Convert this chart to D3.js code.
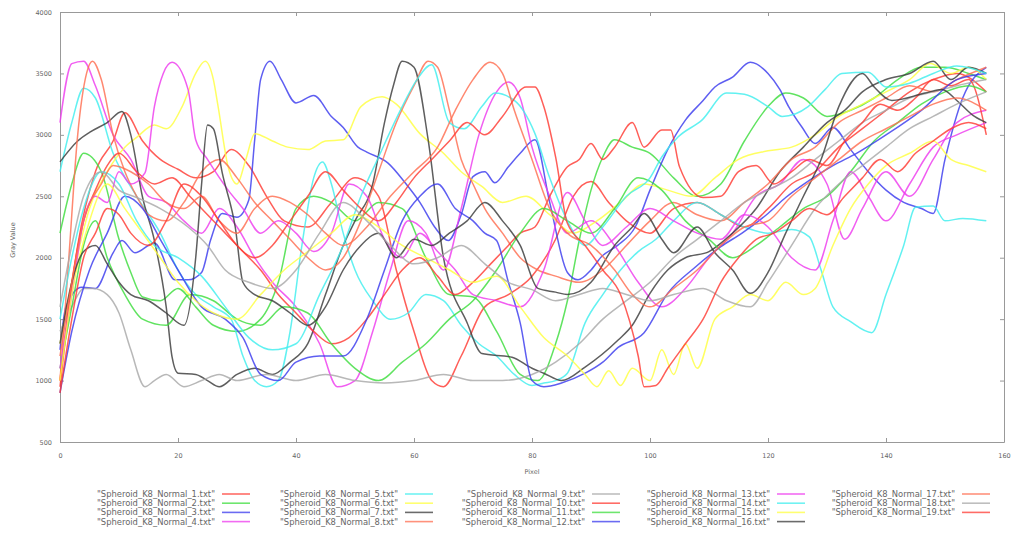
<!DOCTYPE html>
<html>
<head>
<meta charset="utf-8">
<script src="https://cdn.jsdelivr.net/npm/d3@7"></script>
<style>
  body { margin: 0; background: #fff; }
  text { font-family: "DejaVu Sans", Verdana, sans-serif; }
</style>
</head>
<body>
<div id="container"></div>
<script>
// profiles: [pixel, gray value] knots
const s1  = [[0,950],[3,2100],[6,2700],[9,2950],[11,3180],[14,2950],[17,2800],[20,2720],[23,2650],[26,2700],[29,2880],[32,2750],[35,2500],[38,2300],[42,2250],[46,2450],[50,2650],[54,2500],[57,1900],[60,1400],[63,1000],[65,950],[68,1200],[72,1600],[76,1700],[80,1850],[84,2150],[87,2500],[90,2620],[93,2450],[96,2300],[100,2200],[104,2400],[108,2450],[112,2350],[116,2250],[120,2400],[124,2600],[128,2700],[132,2900],[136,3050],[140,3200],[144,3350],[148,3450],[152,3500],[157,3350]];
const s2  = [[0,2200],[2,2600],[4,2850],[7,2700],[10,2150],[12,1880],[14,1680],[17,1650],[20,1750],[23,1600],[26,1450],[30,1400],[34,1500],[37,1800],[40,2400],[43,2500],[46,2450],[50,2300],[54,2450],[58,2400],[62,2000],[66,1700],[70,1680],[74,1400],[78,1050],[81,1000],[84,1300],[86,1650],[88,2140],[90,2550],[92,2820],[94,2960],[97,2900],[100,2850],[104,2650],[108,2500],[112,2600],[116,2950],[120,3230],[123,3340],[126,3300],[130,3150],[134,3200],[138,3300],[142,3450],[146,3550],[150,3550],[154,3500],[157,3450]];
const s3  = [[0,1250],[1,1600],[3.7,1760],[6,1750],[9,2040],[10.5,2140],[12.7,2040],[16,2120],[19.5,1820],[21.7,1820],[24,1880],[25.5,2140],[27.5,2360],[30,2330],[32,2470],[33,2960],[34,3450],[35.6,3600],[37.5,3450],[40,3260],[43,3320],[46,3150],[48,3060],[50.5,2900],[52,2860],[55.6,2770],[58.5,2610],[61,2450],[63.5,2250],[65.8,2140],[68,2350],[70,2660],[72,2700],[73.7,2610],[76,2740],[78,2850],[80.5,2960],[83,2450],[86,1880],[87.8,1820],[90,1900],[91.8,2010],[94.5,2100],[97.5,2250],[100,2550],[103,2880],[106,3120],[109,3280],[111,3390],[114,3470],[117,3590],[120,3500],[122,3370],[123.5,3230],[125.8,3060],[128,2930],[131,3060],[134,2880],[137,2700],[140,2550],[143,2450],[146,2400],[148,2360],[150,2800],[153,3300],[157,3550]];
const s4  = [[0,3100],[2,3580],[4,3600],[6,3400],[9,3000],[12,2800],[15,2500],[18,2450],[21,2300],[24,2200],[27,2400],[30,2250],[33,2000],[36,1800],[40,1600],[44,1300],[47,950],[50,1000],[53,1400],[56,1900],[59,2300],[62,2200],[65,1900],[68,2400],[71,3000],[74,3350],[76,3430],[78,3300],[80,2900],[83,2500],[86,2200],[90,2300],[94,2100],[98,1800],[102,1600],[106,1750],[110,2000],[114,2200],[118,2500],[122,2600],[126,2800],[130,2600],[133,2150],[136,2400],[140,2700],[144,2500],[148,2800],[152,3100],[157,3200]];
const s5  = [[0,2700],[2,3100],[4,3380],[6,3300],[9,2850],[13,2500],[17,2200],[20,1900],[23,1700],[26,1600],[29,1500],[31,1200],[33,1000],[35,950],[37,1000],[39,1400],[41,2100],[43,2650],[44.5,2780],[46,2600],[48,2200],[50,1900],[53,1650],[56,1500],[59,1550],[62,1700],[65,1650],[68,1450],[71,1300],[74,1200],[77,1050],[80,960],[82,980],[84,1000],[86,1060],[89,1470],[92,1700],[95,1900],[98,2050],[101,2150],[104,2300],[108,2450],[112,2350],[116,2250],[120,2200],[124,2230],[127,2170],[129,1900],[131,1600],[134,1480],[137.6,1390],[140,1700],[143,2100],[145,2410],[148,2420],[150,2300],[153,2320],[157,2300]];
const s6  = [[0,1300],[2,1800],[5,2400],[8,2700],[11,2900],[13,2980],[16,3080],[18,3050],[20.7,3230],[23,3500],[24.6,3600],[26,3450],[26.8,3230],[28.5,2740],[30,2600],[31.5,2800],[33,3010],[36,2950],[38.6,2900],[42,2880],[45,2950],[48,2960],[51,3230],[54.6,3310],[57,3250],[61,3010],[65,2850],[68,2700],[71.5,2580],[75,2450],[79,2500],[83,2350],[87,2200],[91,2300],[95,2450],[99,2600],[103,2550],[107,2500],[111,2650],[115,2800],[120,2870],[124,2900],[128,3000],[132,3150],[136,3250],[140,3350],[144,3450],[147.5,3580],[151,3500],[154,3550],[157,3450]];
const s7  = [[0,2780],[3,2950],[5,3020],[8,3100],[10.5,3190],[12,3000],[14,2490],[16,2140],[18,1600],[19,1190],[20,1060],[23,1050],[25,1000],[27,950],[30,1050],[33,1100],[36,1050],[39,1150],[42,1300],[45,1700],[48,2100],[50,2300],[53,2600],[55,3100],[56.5,3400],[58,3600],[60,3550],[62.4,2960],[65,2000],[69,1470],[71.5,1220],[76.6,1190],[80,1100],[82,1060],[85,1000],[89,1110],[94.6,1330],[97,1450],[100,1710],[103,1900],[106,2000],[110,2050],[114,2200],[118,2400],[122,2700],[126,2900],[130,3100],[133,3200],[136,3350],[140,3450],[144,3500],[148,3600],[151,3450],[154,3550],[157,3500]];
const s8  = [[0,1000],[1.5,2000],[3,3000],[4.5,3500],[5.5,3600],[7,3450],[9,3000],[11,2700],[13,2500],[15,2350],[18,2300],[21,2450],[24,2700],[27,2800],[30,2650],[33,2450],[36,2300],[39,2150],[42,2000],[45,1900],[48,2000],[51,2300],[54,2700],[57,3100],[60,3400],[62.4,3600],[64,3550],[66,3200],[68,2800],[70,2600],[72,2400],[75,2200],[78,2000],[81,1900],[84,1850],[88,1800],[92,1900],[96,2100],[100,2300],[104,2450],[108,2350],[112,2300],[116,2450],[120,2600],[124,2800],[128,2900],[132,3100],[136,3200],[140,3300],[144,3400],[148,3350],[152,3450],[157,3550]];
const s9  = [[0,1400],[2,1600],[4,1750],[5.6,1750],[8,1700],[10,1550],[12,1250],[14.4,950],[16,1000],[18,1050],[21,950],[24,1000],[27,1050],[30,1000],[35,1050],[40,1000],[45,1050],[50,1000],[55,980],[60,1000],[65,1050],[70,1000],[75,1000],[80,1050],[84,1150],[88,1300],[92,1500],[96,1650],[100,1800],[104,2000],[108,2150],[112,2300],[116,2450],[120,2550],[124,2650],[128,2800],[132,2950],[136,3100],[140,3200],[144,3300],[148,3350],[152,3400],[157,3450]];
const s10 = [[0,1000],[2,1800],[4,2300],[6,2550],[8,2750],[10,2850],[13,2700],[16,2600],[19,2650],[22,2500],[25,2350],[28,2200],[31,2050],[34,1900],[37,1700],[40,1550],[43,1400],[46,1300],[49,1350],[52,1500],[55,1700],[58,1900],[61,2000],[64,1850],[67,1700],[70,1800],[73,1950],[76,2100],[78,2200],[80.5,2250],[83,2500],[86,2740],[88,2800],[90,2930],[92,2800],[94,2900],[97,3100],[99,2900],[102,3040],[103.5,3040],[105,2740],[109,2490],[112,2500],[115,2700],[118,2750],[121,2600],[124,2700],[127,2800],[130,2750],[133,2950],[136,3100],[139,3250],[142,3200],[145,3300],[148,3450],[151,3400],[154,3450],[157,3000]];
const s11 = [[0,1100],[2,1600],[4,2100],[6,2300],[8,2000],[11,1700],[14,1500],[18,1450],[22,1700],[26,1650],[30,1500],[34,1450],[38,1600],[42,1550],[46,1300],[50,1100],[54,1000],[58,1150],[62,1300],[66,1500],[70,1650],[74,1900],[78,2200],[82,2400],[86,2300],[90,2200],[94,2400],[98,2650],[102,2550],[106,2300],[110,2150],[114,2000],[118,2100],[122,2250],[126,2400],[130,2500],[134,2700],[138,2950],[142,3100],[146,3250],[150,3350],[154,3400],[157,3350]];
const s12 = [[0,900],[2,1400],[5,1900],[8,2200],[11,2500],[14,2400],[17,2150],[20,1900],[24,1600],[28,1500],[31,1350],[34,1050],[37,1000],[40,1150],[44,1200],[48,1200],[52,1500],[55,1900],[58,2300],[61,2500],[64,2600],[67,2400],[70,2300],[72,2200],[74,2140],[76,1800],[78,1470],[80,1000],[82,950],[85,980],[89,1060],[92,1150],[94.6,1270],[99,1390],[103,1710],[107.6,1920],[112,2090],[115.6,2200],[120,2360],[123,2490],[127,2630],[131,2750],[135,2850],[140,3000],[146,3200],[152,3450],[157,3500]];
const s13 = [[0,1100],[2,1700],[4,2300],[6,2500],[8,2450],[10,2700],[12,2600],[14.4,2690],[16,3230],[17.5,3500],[19,3590],[21.7,3370],[23,2960],[25,2800],[28.5,2550],[31,2400],[34,2200],[37,2300],[40,2200],[43,2050],[46,2200],[49,2600],[52,2500],[55,2150],[58,2000],[61,2200],[64,2050],[67,1900],[70,1700],[74,1650],[78,1600],[82,1900],[86,2530],[89,2300],[92,2100],[96,2250],[100,2400],[104,2300],[108,2200],[112,2150],[116,2350],[120,2250],[124,2000],[128,1900],[131,2300],[134,2700],[137,2500],[140,2300],[144,2600],[148,2900],[152,3000],[157,3100]];
const s14 = [[0,1500],[2,2000],[4,2400],[7,2700],[10,2600],[13,2300],[16,2100],[20,2000],[24,1850],[28,1600],[32,1350],[36,1250],[40,1300],[44,1700],[48,2100],[51,2500],[54,2820],[58,3230],[60.5,3450],[63,3570],[66,3100],[68.5,3050],[71.5,3230],[73.7,3340],[77,3280],[80.5,3010],[83,2650],[86,2300],[89,2100],[92,2250],[96,2500],[100,2650],[102,2820],[104.7,2980],[108.8,3120],[113,3340],[116,3330],[120,3230],[122.4,3150],[126.8,3230],[129.7,3370],[132.5,3500],[137,3510],[140,3390],[144,3420],[148,3500],[152,3560],[157,3500]];
const s15 = [[0,1000],[2,1700],[5,2300],[8,2600],[11,2400],[14,2200],[17,2000],[20,1800],[23,1650],[26,1550],[30,1500],[34,1700],[38,1900],[42,2050],[46,2200],[50,2350],[54,2250],[58,2100],[62,2000],[66,1900],[70,1800],[74,1850],[78,1600],[82,1350],[86,1200],[89,1050],[91,950],[93,1080],[95,960],[97,1100],[100,1000],[102,1250],[104,1050],[106,1300],[108,1100],[111,1500],[114,1600],[117,1700],[120,1650],[123,1800],[126,1700],[128,1750],[131,2100],[134,2400],[137,2600],[140,2750],[144,2850],[148,2950],[151,2800],[154,2750],[157,2700]];
const s16 = [[0,1300],[2,1800],[4,2050],[6,2100],[8,1950],[10,1800],[12,1700],[15,1650],[18,1550],[21,1450],[23,2000],[24,2600],[25,3080],[26,3050],[27.5,2690],[29.7,2250],[31,1800],[33,1700],[36,1650],[39,1550],[42,1450],[45,1600],[48,1900],[51,2100],[54,2200],[57,2000],[60,2150],[63,2100],[66,2200],[69,2300],[72,2450],[75,2300],[78,2100],[81,1750],[84,1720],[86,1700],[90,1800],[94,2100],[97,2250],[99,2360],[102,2150],[104,2040],[108,2250],[111,2040],[114,1900],[117,1710],[120,1880],[123,2200],[126,2500],[129,2800],[132,3230],[136,3500],[138,3390],[141,3280],[146.6,3340],[149.5,3370],[152,3280],[155,3150],[157,3100]];
const s17 = [[0,1200],[2,1800],[4,2300],[7,2600],[9,2750],[12,2700],[15,2600],[18,2450],[21,2400],[24,2500],[27,2300],[30,2200],[33,2400],[36,2500],[39,2450],[42,2350],[45,2200],[48,2100],[52,2250],[56,2500],[60,2700],[64,2900],[67,3200],[70,3450],[72.9,3590],[75,3500],[77,3200],[80,2800],[83,2400],[86,2200],[90,2100],[94,1900],[97,1700],[100,1600],[104,1750],[108,1900],[112,2100],[116,2250],[120,2300],[124,2500],[128,2650],[132,2800],[136,2950],[140,3050],[144,3150],[148,3250],[152,3300],[157,3200]];
const s18 = [[0,1600],[2,2100],[4,2500],[7,2700],[10,2550],[13,2490],[17,2400],[21.7,2250],[25,2100],[28,1900],[32,1800],[36,1750],[40,1900],[44,2200],[48,2450],[52,2300],[56,2100],[60,1950],[64,2000],[68,2100],[72,1950],[76,1800],[80,1740],[84,1650],[88,1700],[92,1750],[96,1700],[100,1650],[104,1700],[109,1750],[113,1650],[117,1600],[120,1800],[124,2100],[128,2400],[132,2600],[136,2750],[140,2900],[144,3050],[148,3150],[152,3250],[157,3350]];
const s19 = [[0,900],[2,1500],[4,2000],[6,2200],[8,2400],[10,2350],[12,2200],[15,2100],[18,2300],[21,2600],[24,2500],[27,2300],[30,2100],[33,2000],[36,2100],[39,2300],[42,2500],[45,2700],[48,2550],[51,2400],[54,2300],[57,2450],[60,2650],[63,2800],[66,2950],[69,3100],[72,3000],[75,3150],[79,3390],[80.5,3390],[82,3230],[84,2820],[86,2280],[89,2100],[92,1900],[95,1700],[98,1200],[99,950],[101,960],[103,1100],[106,1300],[109,1500],[112,1800],[115,2000],[118,2150],[121,2200],[124,2300],[127,2400],[130,2350],[133,2500],[136,2650],[139,2800],[142,2700],[145,2850],[148,2950],[151,3050],[154,3100],[157,3050]];

const profiles = [s1, s2, s3, s4, s5, s6, s7, s8, s9, s10, s11, s12, s13, s14, s15, s16, s17, s18, s19];
const fileNames = d3.range(1, 20).map(i => `"Spheroid_K8_Normal_${i}.txt"`);
// gnuplot style colour cycle
const palette = ['#ff3b33', '#3ddd3d', '#3a3aee', '#ee3aee', '#40eeee', '#ffff40', '#3a3a3a', '#ff6e50', '#a8a8a8'];

const xTicks = d3.range(0, 161, 20);
const yTicks = d3.range(500, 4001, 500);

const width = 1016, height = 541;
const marginLeft = 60, marginRight = 1004, marginTop = 12, marginBottom = 442;

const svg = d3.create("svg")
    .attr("width", width)
    .attr("height", height)
    .style("background", "#fff");

let x = d3.scaleLinear().domain([0, 160]).range([marginLeft, marginRight]);
let y = d3.scaleLinear().domain([500, 4000]).range([marginBottom, marginTop]);

// border + ticks on all four sides, like gnuplot
const axisStyle = g => {
  g.select(".domain").attr("stroke", "#999");
  g.selectAll(".tick line").attr("stroke", "#999");
  g.selectAll(".tick text").attr("fill", "#666").style("font-size", "6.5px");
};
svg.append("g").attr("transform", `translate(0,${marginBottom})`)
  .call(d3.axisBottom(x).tickValues(xTicks).tickFormat(d3.format("d")).tickSizeInner(-4).tickSizeOuter(0).tickPadding(11))
  .call(axisStyle);
svg.append("g").attr("transform", `translate(0,${marginTop})`)
  .call(d3.axisTop(x).tickValues(xTicks).tickSizeInner(-4).tickSizeOuter(0).tickFormat(""))
  .call(axisStyle);
svg.append("g").attr("transform", `translate(${marginLeft},0)`)
  .call(d3.axisLeft(y).tickValues(yTicks).tickFormat(d3.format("d")).tickSizeInner(-4).tickSizeOuter(0).tickPadding(8))
  .call(axisStyle);
svg.append("g").attr("transform", `translate(${marginRight},0)`)
  .call(d3.axisRight(y).tickValues(yTicks).tickSizeInner(-4).tickSizeOuter(0).tickFormat(""))
  .call(axisStyle);

svg.append("text").attr("x", 532).attr("y", 474).attr("text-anchor", "middle")
  .attr("fill", "#666").style("font-size", "6.5px").text("Pixel");
svg.append("text").attr("transform", "translate(15,240) rotate(-90)").attr("text-anchor", "middle")
  .attr("fill", "#666").style("font-size", "6.5px").text("Gray Value");

const line = d3.line().x(d => x(d[0])).y(d => y(d[1])).curve(d3.curveMonotoneX);

svg.append("g").selectAll("path").data(profiles).enter().append("path")
  .attr("d", line)
  .attr("fill", "none")
  .attr("stroke", (d, i) => palette[i % 9])
  .attr("stroke-width", 1.5)
  .attr("stroke-opacity", 0.82)
  .attr("stroke-linejoin", "round");

// legend: 5 columns of 4
const colRight = [215, 398, 585, 770, 955];
const leg = svg.append("g").selectAll("g").data(fileNames).enter().append("g")
  .attr("transform", (d, i) => `translate(${colRight[Math.floor(i / 4)]},${494 + (i % 4) * 9.2})`);
leg.append("text").attr("text-anchor", "end").attr("dy", "0.35em")
  .attr("fill", "#666").style("font-size", "8.4px").text(d => d);
leg.append("line").attr("x1", 7).attr("x2", 35)
  .attr("stroke", (d, i) => palette[i % 9]).attr("stroke-width", 1.6).attr("stroke-opacity", 0.75);

container.append(svg.node());
</script>
</body>
</html>
